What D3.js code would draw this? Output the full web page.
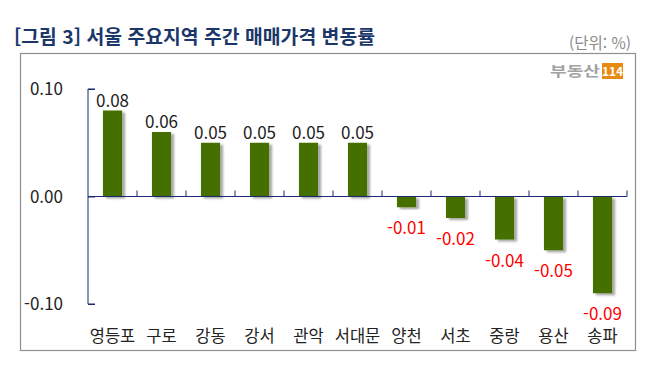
<!DOCTYPE html>
<html lang="ko">
  <head>
    <meta charset="UTF-8" />
    <title>서울 주요지역 주간 매매가격 변동률</title>
    <script src="https://d3js.org/d3.v7.min.js"></script>
    <style>
      body {
        margin: 0;
        background: #fff;
      }
      svg text {
        font-family: "Noto Sans CJK KR", "Noto Sans", sans-serif;
      }
    </style>
  </head>
  <body>
    <div class="chart"></div>
    <script>
      // data
      var regions = ["영등포", "구로", "강동", "강서", "관악", "서대문", "양천", "서초", "중랑", "용산", "송파"];
      var changes = [0.08, 0.06, 0.05, 0.05, 0.05, 0.05, -0.01, -0.02, -0.04, -0.05, -0.09];
      var yTicks = [0.1, 0, -0.1];

      var W = 652, H = 376;
      var plot = { left: 88, right: 627, top: 89, bottom: 304 };

      // plain hyphen for negatives, like the original
      var fmt = d3.formatLocale({ decimal: ".", thousands: ",", grouping: [3], currency: ["", ""], minus: "-" }).format(".2f");

      var svg = d3
        .select(".chart")
        .append("svg")
        .attr("width", W)
        .attr("height", H);

      // drop shadow for bars
      var filter = svg.append("defs").append("filter")
        .attr("id", "shadow")
        .attr("x", "-30%").attr("y", "-10%")
        .attr("width", "160%").attr("height", "130%");
      filter.append("feDropShadow")
        .attr("dx", 3).attr("dy", 2)
        .attr("stdDeviation", 1.3)
        .attr("flood-color", "#000")
        .attr("flood-opacity", 0.35);

      // title + unit
      svg.append("text")
        .attr("x", 14).attr("y", 44)
        .attr("font-size", 19).attr("font-weight", "bold")
        .attr("fill", "#1b3668")
        .attr("textLength", 361)
        .attr("lengthAdjust", "spacingAndGlyphs")
        .text("[그림 3] 서울 주요지역 주간 매매가격 변동률");

      svg.append("text")
        .attr("x", 631).attr("y", 49)
        .attr("text-anchor", "end")
        .attr("font-size", 15.5)
        .attr("fill", "#8a8a8a")
        .text("(단위: %)");

      // frame
      svg.append("rect")
        .attr("x", 20.5).attr("y", 53.5)
        .attr("width", 615).attr("height", 297)
        .attr("fill", "none")
        .attr("stroke", "#8f8f8f")
        .attr("stroke-width", 1.2);

      // logo
      svg.append("text")
        .attr("x", 550).attr("y", 76)
        .attr("font-size", 14).attr("font-weight", "bold")
        .attr("fill", "#a3a3a3")
        .attr("textLength", 50)
        .attr("lengthAdjust", "spacingAndGlyphs")
        .text("부동산");
      svg.append("rect")
        .attr("x", 602).attr("y", 63)
        .attr("width", 21).attr("height", 16)
        .attr("fill", "#e88a12");
      svg.append("text")
        .attr("x", 612.5).attr("y", 76)
        .attr("text-anchor", "middle")
        .attr("font-size", 12).attr("font-weight", "bold")
        .attr("fill", "#fff")
        .text("114");

      // scales
      var x = d3.scaleBand().domain(regions).range([plot.left, plot.right]).padding(0);
      var y = d3.scaleLinear().domain([-0.1, 0.1]).range([plot.bottom, plot.top]);
      var barW = x.bandwidth() * 0.39;
      var axisColor = "#1a2a6c";

      // bars
      svg.append("g")
        .selectAll("rect")
        .data(changes)
        .join("rect")
        .attr("x", function (d, i) { return x(regions[i]) + (x.bandwidth() - barW) / 2; })
        .attr("y", function (d) { return y(Math.max(d, 0)); })
        .attr("width", barW)
        .attr("height", function (d) { return Math.abs(y(d) - y(0)); })
        .attr("fill", "#446f03")
        .attr("filter", "url(#shadow)");

      // y axis
      var yAxis = svg.append("g")
        .attr("transform", "translate(" + plot.left + ",0)")
        .call(d3.axisRight(y).tickValues(yTicks).tickSize(7).tickFormat(""));
      yAxis.select(".domain").attr("stroke", axisColor).attr("d", "M7," + plot.top + "H0V" + plot.bottom + "H7");
      yAxis.selectAll("line").attr("stroke", axisColor);

      svg.append("g")
        .selectAll("text")
        .data(yTicks)
        .join("text")
        .attr("x", 63)
        .attr("y", function (d) { return y(d); })
        .attr("dy", "0.36em")
        .attr("text-anchor", "end")
        .attr("font-size", 17)
        .attr("fill", "#222")
        .text(fmt);

      // x axis on zero line, ticks at category boundaries
      var bounds = regions.map(function (r) { return x(r) + x.bandwidth(); });
      var zeroG = svg.append("g").attr("transform", "translate(0," + y(0) + ")");
      zeroG.append("line")
        .attr("x1", plot.left).attr("x2", plot.right)
        .attr("stroke", axisColor).attr("stroke-width", 1.2);
      zeroG.selectAll(".tk")
        .data(bounds)
        .join("line")
        .attr("class", "tk")
        .attr("x1", function (d) { return d; })
        .attr("x2", function (d) { return d; })
        .attr("y1", 0).attr("y2", -6)
        .attr("stroke", axisColor);

      // category labels
      svg.append("g")
        .selectAll("text")
        .data(regions)
        .join("text")
        .attr("x", function (d) { return x(d) + x.bandwidth() / 2; })
        .attr("y", 342)
        .attr("text-anchor", "middle")
        .attr("font-size", 16.5)
        .attr("fill", "#222")
        .text(function (d) { return d; });

      // value labels
      svg.append("g")
        .selectAll("text")
        .data(changes)
        .join("text")
        .attr("x", function (d, i) { return x(regions[i]) + x.bandwidth() / 2; })
        .attr("y", function (d) { return d >= 0 ? y(d) - 4 : y(d) + 27; })
        .attr("text-anchor", "middle")
        .attr("font-size", 17)
        .attr("fill", function (d) { return d >= 0 ? "#222" : "#ff0000"; })
        .text(fmt);
    </script>
  </body>
</html>
